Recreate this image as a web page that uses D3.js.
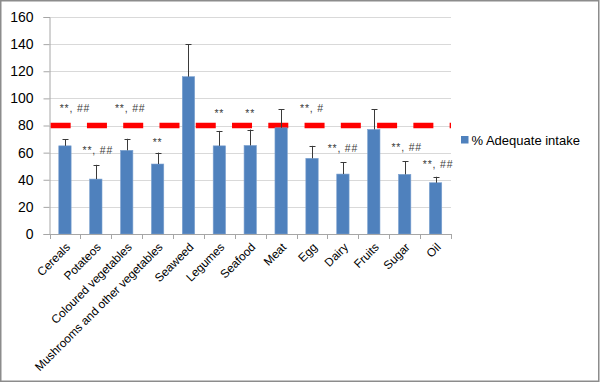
<!DOCTYPE html>
<html><head><meta charset="utf-8">
<script src="https://cdn.jsdelivr.net/npm/d3@7"></script>
<style>html,body{margin:0;padding:0;background:#fff;}svg{display:block;}</style>
</head><body><svg id="c" width="600" height="383"></svg>
<script>
const categories = ["Cereals","Potateos","Coloured vegetables","Mushrooms and other vegetables","Seaweed","Legumes","Seafood","Meat","Egg","Dairy","Fruits","Sugar","Oil"];
const adequateIntake = [65,40.5,61.7,51.6,116,65,65.3,78.3,55.8,44.2,77.1,44,37.8];
const errorUpper = [70,51,70.2,60,140,76,77,92,65,53,92,53.8,42.2];
const referenceLevel = 80;
const sigLabels = ["**, ##","**, ##","**, ##","**","","**","**","","**, #","**, ##","","**, ##","**, ##"];
const sigLabelY = [93,62.4,93,68,null,89.7,89.7,null,93,63.9,null,64.3,51.6];
const yTicks = [0,20,40,60,80,100,120,140,160];
const seriesName = "% Adequate intake";

const labelDx = [10,2,3.5,0,0,0,0,0,0,0,0,2,2.5];

const svg = d3.select("#c");
const font = "'Liberation Sans', Arial, sans-serif";
const x = d3.scaleBand().domain(categories).range([49.5, 451]).paddingInner(0).paddingOuter(0);
const y = d3.scaleLinear().domain([0,160]).range([234, 17]);

svg.append("rect").attr("x",0.75).attr("y",0.75).attr("width",598).attr("height",380.5)
  .attr("fill","#fff").attr("stroke","#8c8c8c").attr("stroke-width",1.5);

svg.append("g").selectAll("line").data(yTicks.filter(d=>d>0)).join("line")
  .attr("x1",49.5).attr("x2",451).attr("y1",d=>Math.round(y(d))+0.5).attr("y2",d=>Math.round(y(d))+0.5)
  .attr("stroke","#d9d9d9").attr("stroke-width",1.2);

const yAxis = d3.axisLeft(y).tickValues(yTicks).tickSize(6).tickPadding(10);
const gy = svg.append("g").attr("transform","translate(49.5,0)").call(yAxis);
gy.select(".domain").attr("stroke","#a6a6a6");
gy.selectAll(".tick line").attr("stroke","#a6a6a6");
gy.selectAll(".tick text").attr("font-family",font).attr("font-size","14px").attr("fill","#000");

svg.append("line").attr("x1",49.5).attr("x2",451).attr("y1",y(referenceLevel)).attr("y2",y(referenceLevel))
  .attr("stroke","#ff0000").attr("stroke-width",5.5).attr("stroke-dasharray","20 16.27").attr("stroke-dashoffset",35.1);

const bw = x.bandwidth()*0.4;
svg.append("g").selectAll("rect").data(categories).join("rect")
  .attr("x",(d)=>x(d)+x.bandwidth()/2-bw/2)
  .attr("y",(d,i)=>y(adequateIntake[i]))
  .attr("width",bw)
  .attr("height",(d,i)=>y(0)-y(adequateIntake[i]))
  .attr("fill","#4f81bd").attr("stroke","#7da2d0").attr("stroke-width",0.6);

const eb = svg.append("g").attr("stroke","#3a3a3a").attr("stroke-width",1);
categories.forEach((c,i)=>{
  const cx = Math.round(x(c)+x.bandwidth()/2)+0.5;
  eb.append("line").attr("x1",cx).attr("x2",cx).attr("y1",y(adequateIntake[i])).attr("y2",y(errorUpper[i]));
  eb.append("line").attr("x1",cx-3).attr("x2",cx+3).attr("y1",Math.round(y(errorUpper[i]))+0.5).attr("y2",Math.round(y(errorUpper[i]))+0.5);
});

const xAxis = d3.axisBottom(x).tickSize(0).tickFormat("");
const gx = svg.append("g").attr("transform",`translate(0,${y(0)})`).call(xAxis);
gx.select(".domain").attr("stroke","#a6a6a6");
const bounds = categories.map(c=>x(c)).concat([x.range()[1]]);
svg.append("g").selectAll("line").data(bounds).join("line")
  .attr("x1",d=>Math.round(d)+0.5).attr("x2",d=>Math.round(d)+0.5).attr("y1",y(0)).attr("y2",y(0)+5)
  .attr("stroke","#a6a6a6");

svg.append("g").selectAll("text").data(categories).join("text")
  .attr("transform",d=>`translate(${x(d)+x.bandwidth()/2+3},${y(0)+11}) rotate(-45)`)
  .attr("text-anchor","end").attr("dy","0.35em")
  .attr("font-family",font).attr("font-size","11.8px").attr("fill","#000")
  .text(d=>d);

svg.append("g").selectAll("text").data(categories).join("text")
  .attr("x",(d,i)=>x(d)+x.bandwidth()/2+labelDx[i])
  .attr("y",(d,i)=>sigLabelY[i]==null?0:y(sigLabelY[i]))
  .attr("dy","0.4em").attr("text-anchor","middle")
  .attr("font-family",font).attr("font-size","10.5px").attr("letter-spacing","0.8px").attr("fill","#404040")
  .text((d,i)=>sigLabels[i]);

svg.append("rect").attr("x",461).attr("y",136).attr("width",7.5).attr("height",7.5).attr("fill","#4f81bd");
svg.append("text").attr("x",471.5).attr("y",140).attr("dy","0.35em")
  .attr("font-family",font).attr("font-size","13px").attr("fill","#000").text(seriesName);
</script></body></html>
